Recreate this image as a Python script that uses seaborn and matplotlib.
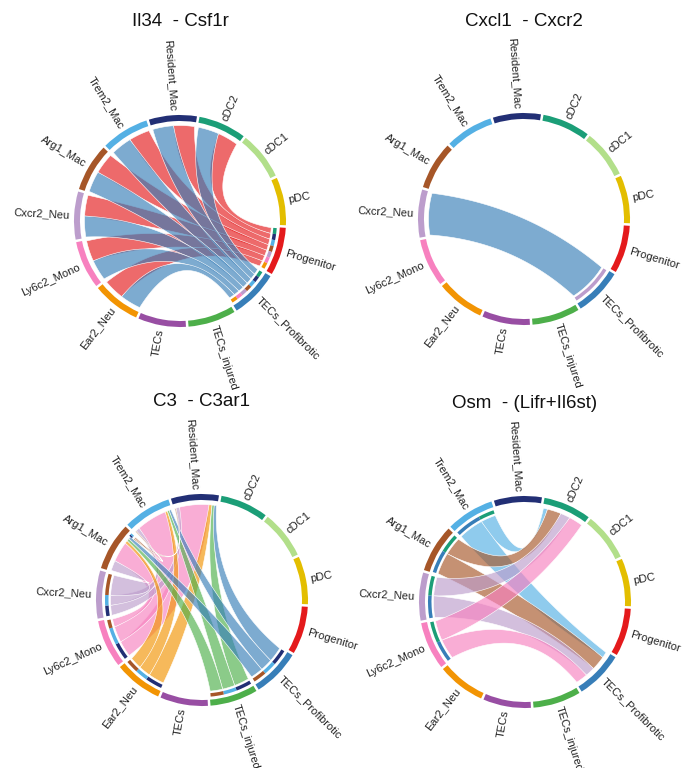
import numpy as np
import matplotlib
matplotlib.use("Agg")
import matplotlib.pyplot as plt
import seaborn as sns
from matplotlib.patches import Polygon, Wedge
from matplotlib.colors import to_rgba

# cell groups, clockwise from the right
cells = ["Progenitor", "TECs_Profibrotic", "TECs_injured", "TECs", "Ear2_Neu",
         "Ly6c2_Mono", "Cxcr2_Neu", "Arg1_Mac", "Trem2_Mac", "Resident_Mac",
         "cDC2", "cDC1", "pDC"]
cell_colors = ["#E41A1C", "#377EB8", "#4DAF4A", "#984EA3", "#F29403", "#F781BF",
               "#BC9DCC", "#A65628", "#54B0E4", "#222F75", "#1B9E77", "#B2DF8A", "#E3BE00"]

titles = ["Il34  - Csf1r", "Cxcl1  - Cxcr2", "C3  - C3ar1", "Osm  - (Lifr+Il6st)"]

# Il34 - Csf1r
il34_src = ["Progenitor", "Progenitor", "Progenitor", "Progenitor", "Progenitor", "Progenitor", "Progenitor",
            "TECs_Profibrotic", "TECs_Profibrotic", "TECs_Profibrotic", "TECs_Profibrotic",
            "TECs_Profibrotic", "TECs_Profibrotic", "TECs_Profibrotic"]
il34_tgt = ["cDC2", "Resident_Mac", "Trem2_Mac", "Arg1_Mac", "Cxcr2_Neu", "Ly6c2_Mono", "Ear2_Neu",
            "cDC2", "Resident_Mac", "Trem2_Mac", "Arg1_Mac", "Cxcr2_Neu", "Ly6c2_Mono", "Ear2_Neu"]
il34_val = [1.0, 1.0, 1.0, 1.0, 1.0, 1.0, 1.0, 1.0, 1.0, 1.0, 1.0, 1.0, 1.0, 1.0]

# Cxcl1 - Cxcr2
cxcl1_src = ["TECs_Profibrotic"]
cxcl1_tgt = ["Cxcr2_Neu"]
cxcl1_val = [1.0]

# C3 - C3ar1
c3_src = ["Ly6c2_Mono", "Ly6c2_Mono", "Ly6c2_Mono",
          "Cxcr2_Neu", "Cxcr2_Neu", "Cxcr2_Neu",
          "Ear2_Neu", "Ear2_Neu", "Ear2_Neu",
          "TECs_injured", "TECs_injured", "TECs_injured",
          "TECs_Profibrotic", "TECs_Profibrotic", "TECs_Profibrotic",
          "Arg1_Mac", "Arg1_Mac"]
c3_tgt = ["Resident_Mac", "Trem2_Mac", "Arg1_Mac",
          "Resident_Mac", "Trem2_Mac", "Arg1_Mac",
          "Resident_Mac", "Trem2_Mac", "Arg1_Mac",
          "Resident_Mac", "Trem2_Mac", "Arg1_Mac",
          "Resident_Mac", "Trem2_Mac", "Arg1_Mac",
          "Resident_Mac", "Trem2_Mac"]
c3_val = [8.0, 8.0, 4.0,
          1.0, 1.0, 2.0,
          0.8, 0.6, 0.6,
          0.6, 0.5, 0.5,
          0.6, 0.5, 0.5,
          0.3, 0.3]

# Osm - (Lifr+Il6st)
osm_src = ["Trem2_Mac", "Trem2_Mac", "Arg1_Mac", "Arg1_Mac",
           "Cxcr2_Neu", "Cxcr2_Neu", "Ly6c2_Mono", "Ly6c2_Mono"]
osm_tgt = ["cDC2", "TECs_Profibrotic", "cDC2", "TECs_Profibrotic",
           "cDC2", "TECs_Profibrotic", "cDC2", "TECs_Profibrotic"]
osm_val = [0.3, 0.5, 1.0, 1.2, 0.7, 0.8, 1.0, 1.0]

panels = [(il34_src, il34_tgt, il34_val), (cxcl1_src, cxcl1_tgt, cxcl1_val),
          (c3_src, c3_tgt, c3_val), (osm_src, osm_tgt, osm_val)]
centers = [(180, 547), (524, 549), (202, 168), (525, 166)]
title_y = [746, 746, 366, 365]

n = len(cells)
step = 360 / n
start = -3.0
gap = 1.4
R_IN, R_OUT = 100, 106
TRACK_IN, TRACK_OUT = 93.5, 97
R_SRC, R_TGT = 91.5, 95.5
R_LAB = 110
H_RATIO = 0.4


def sector_edges(i):
    hi = start - i * step - gap / 2
    return hi, hi - step + gap


def mid_angle(i):
    return start - i * step - step / 2


def arc(c, r, a1, a2, num=40):
    t = np.deg2rad(np.linspace(a1, a2, num))
    return np.column_stack([c[0] + r * np.cos(t), c[1] + r * np.sin(t)])


def bezier(p0, p2, h, direction, num=60):
    ctrl = (p0 + p2) / 2 + 2 * h * direction
    t = np.linspace(0, 1, num)[:, None]
    return (1 - t) ** 2 * p0 + 2 * (1 - t) * t * ctrl + t ** 2 * p2


def draw_chord(ax, c, title, ty, src, tgt, val):
    idx = {name: i for i, name in enumerate(cells)}
    for i, name in enumerate(cells):
        hi, lo = sector_edges(i)
        ax.add_patch(Wedge(c, R_OUT, lo, hi, width=R_OUT - R_IN, color=cell_colors[i], lw=0))
        m = (mid_angle(i) + 180) % 360 - 180
        t = np.deg2rad(m)
        x, y = c[0] + R_LAB * np.cos(t), c[1] + R_LAB * np.sin(t)
        if -90 <= m <= 90:
            ha, rot = "left", m
        else:
            ha, rot = "right", m - 180 if m > 0 else m + 180
        ax.text(x, y, name, rotation=rot, rotation_mode="anchor", ha=ha, va="center",
                fontsize=8, color="#222222")

    # split every sector among its link ends
    ends = {i: [] for i in range(n)}
    for k, (s, t, v) in enumerate(zip(src, tgt, val)):
        ends[idx[s]].append((k, "src", idx[t], v))
        ends[idx[t]].append((k, "tgt", idx[s], v))
    span = {}
    for i, lst in ends.items():
        if not lst:
            continue
        mi = mid_angle(i)
        lst.sort(key=lambda e: -((mi - mid_angle(e[2])) % 360))
        hi, lo = sector_edges(i)
        hi -= 0.5
        lo += 0.5
        total = sum(e[3] for e in lst)
        a = hi
        for k, role, other, v in lst:
            w = (hi - lo) * v / total
            span[(k, role)] = (a, a - w)
            a -= w

    for k, (s, t, v) in enumerate(zip(src, tgt, val)):
        a1, a2 = span[(k, "src")]
        b1, b2 = span[(k, "tgt")]
        ca, cb = (a1 + a2) / 2, (b1 + b2) / 2
        d = (cb - ca + 180) % 360 - 180
        phi = np.deg2rad(ca + d / 2)
        direction = -np.array([np.cos(phi), np.sin(phi)])
        h = H_RATIO * R_TGT * np.cos(np.deg2rad(d / 2))
        pa = arc(c, R_SRC, a1, a2)
        pb = arc(c, R_TGT, b1, b2)
        poly = np.vstack([pa, bezier(pa[-1], pb[0], h, direction), pb,
                          bezier(pb[-1], pa[0], h, direction)])
        ax.add_patch(Polygon(poly, closed=True, fc=to_rgba(cell_colors[idx[s]], 0.65),
                             ec="white", lw=0.4))
        ax.add_patch(Wedge(c, TRACK_OUT, a2, a1, width=TRACK_OUT - TRACK_IN,
                           color=cell_colors[idx[t]], lw=0))

    ax.text(c[0], ty, title, ha="center", va="center", fontsize=13.5, color="#111111")


sns.set_theme(style="white")
plt.rcParams["font.family"] = ["Liberation Sans", "DejaVu Sans"]

fig = plt.figure(figsize=(6.94, 7.68), dpi=100)
ax = fig.add_axes([0, 0, 1, 1])
ax.set_xlim(0, 694)
ax.set_ylim(0, 768)
ax.set_aspect("equal")
ax.axis("off")

for (src, tgt, val), c, title, ty in zip(panels, centers, titles, title_y):
    draw_chord(ax, c, title, ty, src, tgt, val)

fig.savefig("out.png", dpi=100, facecolor="white")
